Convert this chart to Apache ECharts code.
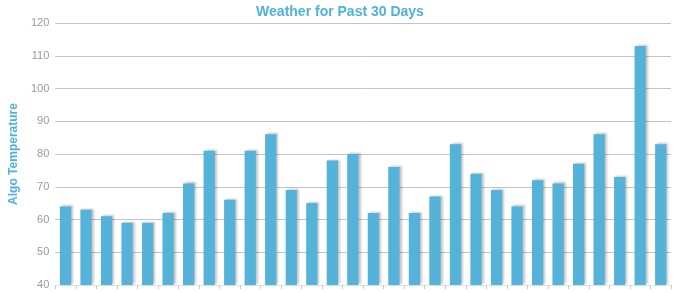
<!DOCTYPE html>
<html>
<head>
<meta charset="utf-8">
<script src="https://cdn.jsdelivr.net/npm/echarts@6/dist/echarts.min.js"></script>
<style>html,body{margin:0;padding:0;background:#fff}#c{width:680px;height:293px}</style>
</head>
<body>
<div id="c"></div>
<script>
var titleText = "Weather for Past 30 Days";
var yAxisName = "Algo Temperature";
var days = [];
for (var i = 1; i <= 30; i++) days.push("Day " + i);
var temps = [64, 63, 61, 59, 59, 62, 71, 81, 66, 81, 86, 69, 65, 78, 80, 62, 76, 62, 67, 83, 74, 69, 64, 72, 71, 77, 86, 73, 113, 83];
var yMin = 40, yMax = 120, yStep = 10;

var chart = echarts.init(document.getElementById('c'), null, {renderer: 'canvas'});
chart.setOption({
  animation: false,
  backgroundColor: '#fff',
  title: {
    text: titleText, left: 'center', top: 0,
    textStyle: {color: '#4fb1dc', fontSize: 14, fontWeight: 'bold', fontFamily: 'Liberation Sans, Arial, sans-serif'}
  },
  grid: {left: 49, right: 9, top: 23, bottom: 8, containLabel: false},
  xAxis: {
    type: 'category', data: days,
    axisLine: {show: true, lineStyle: {color: '#dde3ea', width: 1}},
    axisTick: {show: true, interval: 0, alignWithLabel: false, length: 4, lineStyle: {color: '#c8ccd0'}},
    axisLabel: {show: false, interval: 0},
    splitLine: {show: false}
  },
  yAxis: {
    type: 'value', min: yMin, max: yMax, interval: yStep,
    name: yAxisName, nameLocation: 'middle', nameGap: 33, nameRotate: 90,
    nameTextStyle: {color: '#4fb1dc', fontSize: 12, fontWeight: 'bold', fontFamily: 'Liberation Sans, Arial, sans-serif'},
    axisLine: {show: false}, axisTick: {show: false},
    axisLabel: {color: '#9a9a9a', fontSize: 11, fontFamily: 'Liberation Sans, Arial, sans-serif', margin: 6},
    splitLine: {lineStyle: {color: '#c4c4c4', width: 1}}
  },
  series: [{
    type: 'bar', data: temps, barWidth: '55%',
    itemStyle: {color: '#55b2d9', shadowColor: 'rgba(0,0,0,0.22)', shadowBlur: 2, shadowOffsetX: 2, shadowOffsetY: -1}
  }]
});
</script>
</body>
</html>
